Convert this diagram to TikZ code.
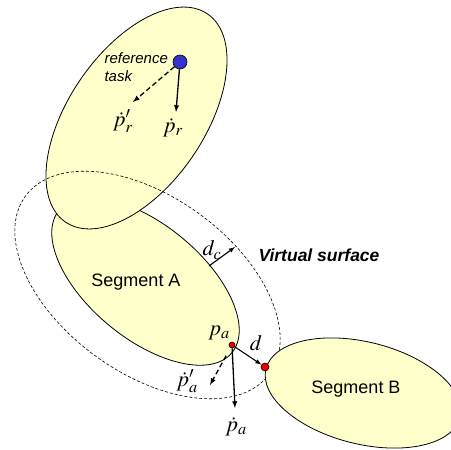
\documentclass[tikz,border=0pt]{standalone}
\usepackage{mathptmx}
\usepackage{fontspec}
\setsansfont{Liberation Sans}
\definecolor{segfill}{RGB}{255,255,204}
\definecolor{taskblue}{RGB}{51,51,204}
\definecolor{contactred}{RGB}{240,0,0}
\begin{document}
\begin{tikzpicture}[x=1pt,y=-1pt,
    seg/.style={draw=black,fill=segfill,line width=0.8pt},
    vsurf/.style={draw=black,line width=0.6pt,dash pattern=on 3pt off 2pt},
    vec/.style={-latex,line width=1.3pt},
    dvec/.style={-latex,line width=1.3pt,dash pattern=on 5pt off 3pt},
    lbl/.style={font=\sffamily\fontsize{18}{20}\selectfont},
    mlbl/.style={font=\fontsize{22}{24}\selectfont,inner sep=1pt},
    pointdot/.style={circle,draw=black,inner sep=0pt,line width=0.6pt}]
    \useasboundingbox (0,0) rectangle (451,450);
    % segments
    \draw[seg,rotate around={-39.5:(145.5,281.5)}] (145.5,281.5) ellipse [x radius=112, y radius=57];
    \draw[seg,rotate around={55.7:(136.5,118)}] (136.5,118) ellipse [x radius=126, y radius=68];
    % virtual surface
    \draw[vsurf,rotate around={-36:(147.5,285)}] (147.5,285) ellipse [x radius=151, y radius=88];
    \draw[seg,rotate around={-14:(363,393)}] (363,393) ellipse [x radius=100, y radius=51];
    % reference task
    \node[pointdot,fill=taskblue,minimum size=14pt] (task) at (180,62) {};
    \coordinate (prend)  at (176,112);
    \coordinate (prdend) at (133,102);
    \draw[vec] (task) -- (prend);
    \draw[dvec] (task) -- (prdend);
    \node[font=\sffamily\itshape\fontsize{15}{18}\selectfont,align=left,anchor=west] (tasklbl) at (101,67) {reference\\task};
    \node[mlbl] (pr)  at (173,128) {$\dot p_r$};
    \node[mlbl] (prd) at (123,121) {$\dot p'_r$};
    % distance to virtual surface
    \coordinate (dcs) at (209,266);
    \coordinate (dce) at (235,247);
    \draw[-latex,line width=1.1pt] (dcs) -- (dce);
    \node[mlbl] (dc) at (212,250) {$d_c$};
    \node[font=\sffamily\bfseries\itshape\fontsize{17.5}{20}\selectfont] (vs) at (319,255) {Virtual surface};
    % contact points
    \node[pointdot,fill=contactred,minimum size=6pt] (pa) at (232,345) {};
    \node[pointdot,fill=contactred,minimum size=8pt] (pb) at (265,367) {};
    \coordinate (padend)  at (235,408);
    \coordinate (paddend) at (210,385);
    \draw[vec] (pa) -- (padend);
    \draw[dvec,shorten <=9pt] (pa) -- (paddend);
    \draw[-latex,line width=1.1pt] (pa) -- (pb);
    \node[mlbl] (palbl) at (219,333) {$p_a$};
    \node[mlbl] (dlbl)  at (256,343) {$d$};
    \node[mlbl] (pad)   at (236,427) {$\dot p_a$};
    \node[mlbl] (padd)  at (187,381) {$\dot p'_a$};
    % segment names
    \node[lbl] (sega) at (136,282) {Segment A};
    \node[lbl] (segb) at (356,389) {Segment B};
\end{tikzpicture}
\end{document}
